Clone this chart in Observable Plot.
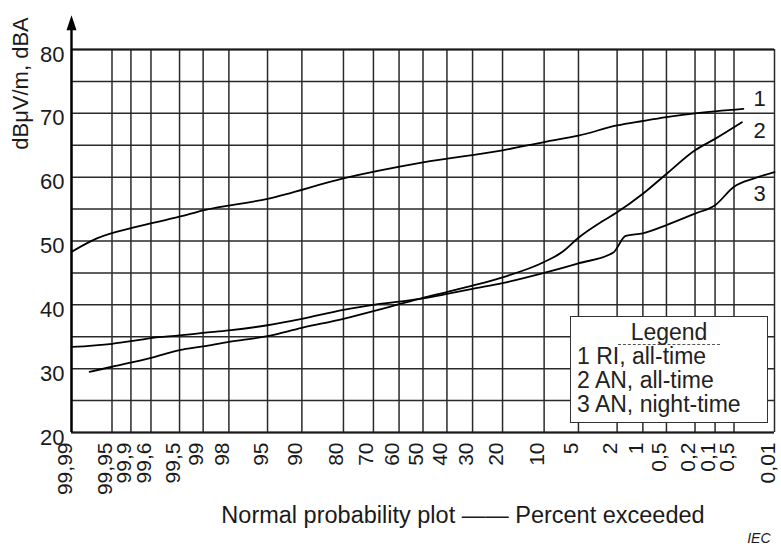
<!DOCTYPE html>
<html><head><meta charset="utf-8">
<script src="https://cdn.jsdelivr.net/npm/d3@7"></script>
<script src="https://cdn.jsdelivr.net/npm/@observablehq/plot@0.6"></script>
<style>
html,body{margin:0;padding:0;background:#fff}
#wrap{position:relative;width:781px;height:547px;font-family:"Liberation Sans",Arial,sans-serif}
#legend{position:absolute;left:570px;top:316px;width:196px;height:105px;border:1.5px solid #333;background:#fff;color:#222;font-size:23px;line-height:24px}
#legend .ttl{text-align:center;margin-top:3px;height:24px}
#legend .ttl span{display:inline-block;padding:0 13px 2px 13px;border-bottom:1.5px dashed #555;line-height:20px}
#legend .row{padding-left:6px;white-space:nowrap}
</style>
</head><body>
<div id="wrap"></div>
<script>
// x tick positions (percent exceeded) and printed labels
const tickPercents = [99.99, 99.95, 99.9, 99.8, 99.5, 99, 98, 95, 90, 80, 70, 60, 50, 40, 30, 20, 10, 5, 2, 1, 0.5, 0.2, 0.1, 0.05, 0.01];
const tickLabels = ["99,99","99,95","99,9","99,6","99,5","99","98","95","90","80","70","60","50","40","30","20","10","5","2","1","0,5","0,2","0,1","0,5","0,01"];
const yTicks = [20, 30, 40, 50, 60, 70, 80];
const yGrid = [20, 25, 30, 35, 40, 45, 50, 55, 60, 65, 70, 75, 80];

// Curve 1: RI, all-time
const riP  = [99.99, 99.972, 99.88, 99.5, 99, 95, 80, 50, 20, 10, 5, 2, 1, 0.5, 0.2, 0.035];
const riDb = [48.3, 50.4, 52.2, 53.8, 54.8, 56.6, 59.8, 62.3, 64.2, 65.5, 66.5, 68.1, 68.8, 69.4, 70.0, 70.7];
// Curve 2: AN, all-time
const anAllP  = [99.979, 99.95, 99.8, 99.5, 99, 98, 95, 90, 80, 70, 60, 50, 40, 30, 20, 10, 7, 5, 2.8, 2, 1, 0.5, 0.2, 0.1, 0.037];
const anAllDb = [29.5, 30.3, 31.7, 32.9, 33.5, 34.2, 35.1, 36.4, 37.8, 39.0, 40.1, 41.1, 42.0, 43.0, 44.3, 46.7, 48.3, 50.5, 53.2, 54.5, 57.4, 60.5, 64.2, 66.0, 68.6];
// Curve 3: AN, night-time
const anNightP  = [99.99, 99.95, 99.9, 99.8, 99.5, 99, 98, 95, 90, 80, 70, 60, 50, 40, 30, 20, 10, 5, 2.2, 1.6, 1, 0.5, 0.2, 0.1, 0.05, 0.023, 0.01];
const anNightDb = [33.4, 33.9, 34.3, 34.8, 35.2, 35.6, 36.0, 36.8, 37.8, 39.2, 40.0, 40.5, 41.0, 41.7, 42.5, 43.4, 45.0, 46.5, 48.2, 50.8, 51.2, 52.5, 54.3, 55.6, 58.5, 59.8, 60.8];

// curve number labels near the right edge
const curveNames = ["1", "2", "3"];
const curveLabelP = [0.0185, 0.0185, 0.0185];
const curveLabelDb = [72.3, 67.3, 57.4];

const legendTitle = "Legend";
const legendRows = ["1 RI, all-time", "2 AN, all-time", "3 AN, night-time"];
const xTitle = "Normal probability plot —— Percent exceeded";
const yTitle = "dBμV/m, dBA";
const credit = "IEC";

// inverse normal CDF (Acklam)
function probit(p) {
  const a = [-3.969683028665376e+01, 2.209460984245205e+02, -2.759285104469687e+02, 1.383577518672690e+02, -3.066479806614716e+01, 2.506628277459239e+00];
  const b = [-5.447609879822406e+01, 1.615858368580409e+02, -1.556989798598866e+02, 6.680131188771972e+01, -1.328068155288572e+01];
  const c = [-7.784894002430293e-03, -3.223964580411365e-01, -2.400758277161838e+00, -2.549732539343734e+00, 4.374664141464968e+00, 2.938163982698783e+00];
  const d = [7.784695709041462e-03, 3.224671290700398e-01, 2.445134137142996e+00, 3.754408661907416e+00];
  const plow = 0.02425, phigh = 1 - plow;
  let q, r;
  if (p < plow) {
    q = Math.sqrt(-2 * Math.log(p));
    return (((((c[0]*q+c[1])*q+c[2])*q+c[3])*q+c[4])*q+c[5]) / ((((d[0]*q+d[1])*q+d[2])*q+d[3])*q+1);
  } else if (p <= phigh) {
    q = p - 0.5; r = q*q;
    return (((((a[0]*r+a[1])*r+a[2])*r+a[3])*r+a[4])*r+a[5])*q / (((((b[0]*r+b[1])*r+b[2])*r+b[3])*r+b[4])*r+1);
  } else {
    q = Math.sqrt(-2 * Math.log(1 - p));
    return -(((((c[0]*q+c[1])*q+c[2])*q+c[3])*q+c[4])*q+c[5]) / ((((d[0]*q+d[1])*q+d[2])*q+d[3])*q+1);
  }
}
const z = pct => probit(1 - pct / 100);

const ticks = tickPercents.map((p, i) => ({p, label: tickLabels[i]}));
const series = [
  riP.map((p, i) => ({p, db: riDb[i], k: 1})),
  anAllP.map((p, i) => ({p, db: anAllDb[i], k: 2})),
  anNightP.map((p, i) => ({p, db: anNightDb[i], k: 3}))
].flat();
const curveLabels = curveNames.map((t, i) => ({t, p: curveLabelP[i], db: curveLabelDb[i]}));

const arrowHead = {
  draw(ctx) { ctx.moveTo(0, -8); ctx.lineTo(5, 7); ctx.lineTo(-5, 7); ctx.closePath(); }
};

const ink = "#1a1a1a";
const font = "'Liberation Sans', Arial, sans-serif";

const chart = Plot.plot({
  width: 781, height: 547,
  marginLeft: 71, marginRight: 7, marginTop: 49, marginBottom: 115,
  x: {domain: [z(99.99), z(0.01)], axis: null},
  y: {domain: [20, 80], axis: null},
  style: {fontFamily: font, background: "#fff", overflow: "visible", color: ink},
  marks: [
    Plot.ruleY(yGrid, {y: d => d, stroke: "#2a2a2a", strokeWidth: 1.5}),
    Plot.ruleX(tickPercents, {x: d => z(d), stroke: "#2a2a2a", strokeWidth: 1.5}),
    Plot.ruleY([20, 80], {y: d => d, stroke: ink, strokeWidth: 2}),
    Plot.ruleX([99.99], {x: d => z(d), y1: 20, y2: 84, stroke: "#000", strokeWidth: 2.4}),
    Plot.dot([99.99], {x: d => z(d), y: 84.1, symbol: arrowHead, fill: "#000", stroke: "none"}),
    Plot.line(series, {x: d => z(d.p), y: "db", z: "k", curve: "monotone-x", stroke: "#000", strokeWidth: 1.8}),
    Plot.text(ticks, {x: d => z(d.p), text: "label", frameAnchor: "bottom", rotate: -90, textAnchor: "end", lineAnchor: "bottom", dy: 10, dx: 0, fontSize: 21, fill: ink}),
    Plot.text(yTicks, {y: d => d, text: d => String(d), frameAnchor: "left", textAnchor: "end", dx: -7, dy: 5, fontSize: 22, fill: ink}),
    Plot.text([yTitle], {frameAnchor: "top-left", text: d => d, rotate: -90, textAnchor: "middle", lineAnchor: "middle", dx: -51, dy: 34, fontSize: 22, fill: ink}),
    Plot.text([xTitle], {frameAnchor: "bottom", text: d => d, textAnchor: "middle", lineAnchor: "bottom", dx: 40, dy: 90, fontSize: 23.5, fill: ink}),
    Plot.text([credit], {frameAnchor: "bottom-right", text: d => d, textAnchor: "end", lineAnchor: "bottom", dx: -4, dy: 110, fontSize: 14, fontStyle: "italic", fill: ink}),
    Plot.text(curveLabels, {x: d => z(d.p), y: "db", text: "t", fontSize: 22, fill: ink})
  ]
});

const wrap = document.getElementById("wrap");
wrap.appendChild(chart);
const lg = document.createElement("div");
lg.id = "legend";
lg.innerHTML = `<div class="ttl"><span>${legendTitle}</span></div>` + legendRows.map(r => `<div class="row">${r}</div>`).join("");
wrap.appendChild(lg);
</script>
</body></html>
